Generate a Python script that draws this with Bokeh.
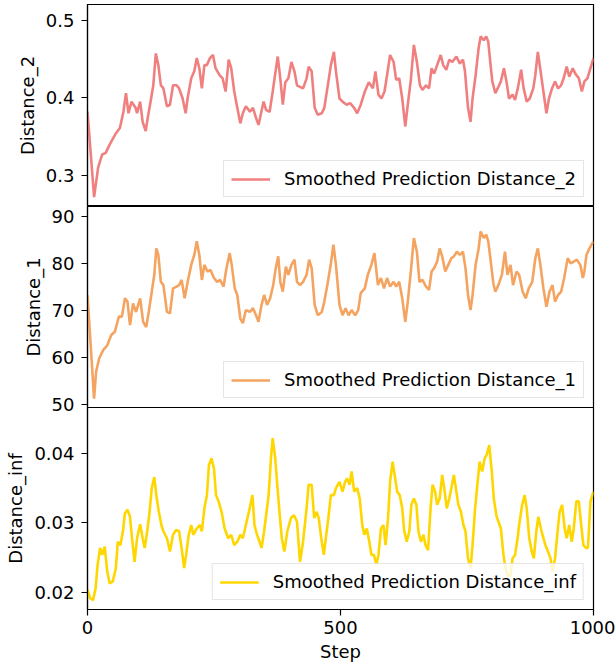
from bokeh.plotting import figure
from bokeh.layouts import column
from bokeh.models import Range1d, FixedTicker
from bokeh.embed import file_html
from bokeh.resources import INLINE

# ---------------- data ----------------
d2_steps = [0,13,21,29,36,44,56,64,71,76,81,87,95,98,104,109,115,119,126,130,
            135,140,145,150,157,163,169,176,181,188,194,198,205,211,216,221,226,231,236,242,
            248,253,261,267,273,279,284,290,296,302,307,313,321,327,333,338,343,348,353,360,
            366,371,376,381,386,391,397,403,409,414,420,426,433,437,443,449,455,463,468,474,
            481,487,491,498,504,512,519,527,533,540,548,556,564,569,575,581,587,592,598,605,
            610,616,622,628,633,639,645,651,657,662,669,675,680,685,691,698,703,709,715,721,
            729,736,742,746,752,757,761,767,773,777,783,788,792,796,800,806,812,817,823,828,
            833,840,845,851,857,862,868,874,881,885,890,895,901,907,912,918,924,930,936,941,
            947,952,959,964,971,977,982,988,994,1000]
d2_values = [0.382,0.272,0.31,0.327,0.329,0.34,0.354,0.361,0.382,0.406,
             0.38,0.395,0.387,0.38,0.395,0.369,0.357,0.374,0.4,0.416,
             0.457,0.442,0.416,0.412,0.389,0.391,0.416,0.416,0.412,0.399,
             0.38,0.4,0.425,0.434,0.451,0.438,0.412,0.442,0.442,0.451,
             0.455,0.438,0.429,0.425,0.408,0.449,0.438,0.408,0.387,0.367,
             0.38,0.389,0.382,0.387,0.374,0.365,0.38,0.395,0.384,0.382,
             0.408,0.431,0.453,0.425,0.391,0.42,0.425,0.446,0.434,0.416,
             0.414,0.412,0.425,0.44,0.434,0.387,0.378,0.38,0.387,0.412,
             0.442,0.459,0.434,0.399,0.395,0.391,0.393,0.387,0.38,0.391,
             0.408,0.42,0.412,0.434,0.404,0.399,0.408,0.429,0.455,0.446,
             0.423,0.425,0.399,0.363,0.391,0.423,0.468,0.446,0.416,0.41,
             0.416,0.412,0.438,0.431,0.442,0.455,0.442,0.436,0.449,0.446,
             0.453,0.444,0.449,0.434,0.387,0.369,0.399,0.429,0.464,0.479,
             0.474,0.479,0.472,0.446,0.421,0.406,0.414,0.421,0.438,0.421,
             0.399,0.404,0.397,0.414,0.436,0.412,0.395,0.399,0.412,0.429,
             0.459,0.436,0.408,0.38,0.399,0.412,0.421,0.412,0.416,0.425,
             0.44,0.427,0.438,0.431,0.425,0.408,0.421,0.425,0.438,0.451]

d1_steps = [0,13,17,23,31,39,47,54,62,68,74,79,84,90,96,104,110,116,121,127,
            132,136,140,145,150,157,163,169,176,181,186,192,198,205,211,216,221,226,231,237,
            243,250,256,262,269,274,281,285,291,296,302,307,313,321,327,333,338,344,349,355,
            361,367,372,377,381,386,392,397,403,409,414,420,426,433,438,443,449,455,463,468,
            474,481,486,491,498,504,510,516,522,529,535,540,548,554,561,567,574,580,586,592,
            598,605,610,616,622,628,633,639,645,651,656,662,669,675,680,685,691,696,701,707,
            713,719,724,730,736,742,747,752,757,761,767,773,777,783,788,792,797,802,806,812,
            819,825,830,836,841,848,853,860,866,872,879,885,890,895,901,907,913,919,924,930,
            936,942,949,955,961,967,974,979,982,986,992,1000]
d1_values = [73.3,51.3,57,59.8,61.6,62.6,64.8,65.5,68.7,68.7,
             72.6,71.9,66.9,71.5,69.7,72.6,67.6,66.5,69.7,74,
             77.6,83.2,81.8,76.1,75.4,69.7,69.4,74.7,75.1,75.4,
             76.5,72.6,76.1,79.7,81.8,84.7,81.8,76.5,79.7,78.3,
             78.6,76.9,76.1,76.5,75.1,78.6,82.2,79.7,74.7,73.3,
             68.3,67.3,70.1,69.7,70.5,69,67.6,71.2,73.3,71.2,
             72.6,75.4,79,81.5,76.1,74,79.3,77.6,79.7,80.8,
             76.1,75.4,76.1,77.6,80.8,79,71.2,69,69.7,71.9,
             75.4,80,84,79.7,71.2,69,70.5,69,70.1,69,
             70.1,73.7,74.7,77.6,79.7,82.2,75.4,76.9,74.7,76.9,
             75.1,76.1,75.1,76.1,72.6,67.6,71.9,78.3,85.4,82.5,
             76.1,76.5,75.1,74.4,78.3,79,80.4,83.2,81.5,78.3,
             79.7,81.1,81.5,82.5,81.8,82.5,79,73.3,70.1,73.3,
             79.7,83.2,86.8,85.4,86.1,84.7,80.4,75.8,74,75.4,
             77.6,82.5,77.6,79.7,75.4,78.3,77.6,74,72.6,74.7,
             76.1,81.1,83.2,79.7,74.7,70.8,74,75.4,71.9,73.3,
             74,76.9,81.1,80,80.4,80.8,79.7,76.9,78.3,81.8,
             83.2,84.7]

dinf_steps = [0,5,11,16,20,25,29,34,39,44,50,56,60,65,70,74,79,84,88,93,
              98,104,109,113,118,122,127,132,136,141,146,150,157,163,169,175,181,186,191,195,
              200,205,209,216,222,226,231,236,240,245,250,254,259,265,271,278,284,290,296,302,
              307,313,319,326,330,335,340,344,349,353,358,363,366,371,375,380,384,389,395,402,
              408,414,420,426,433,437,443,448,453,457,462,467,471,476,481,487,491,498,504,509,
              513,518,522,527,533,538,543,547,552,557,561,566,571,575,580,585,589,594,598,603,
              608,612,617,622,626,631,636,640,645,650,654,659,664,668,673,678,682,687,691,696,
              701,705,710,715,719,724,729,733,738,743,747,752,757,761,766,771,775,780,785,789,
              794,799,803,808,812,817,822,826,831,836,840,845,850,853,859,864,868,873,878,882,
              887,891,896,901,905,910,915,919,924,929,933,938,943,947,952,957,961,966,971,975,
              980,985,989,994,1000]
dinf_values = [0.0204,0.0192,0.0189,0.0206,0.024,0.0264,0.0254,0.0266,0.023,0.0213,
               0.0216,0.0235,0.0273,0.0268,0.0288,0.0314,0.0319,0.0309,0.0278,0.0244,
               0.0278,0.0298,0.0278,0.0264,0.0288,0.0311,0.035,0.0366,0.034,0.0316,
               0.0297,0.0288,0.0278,0.0259,0.0283,0.029,0.0288,0.0264,0.0235,0.0254,
               0.0283,0.0297,0.0283,0.0292,0.0297,0.0288,0.0321,0.034,0.0383,0.0393,
               0.0378,0.034,0.0331,0.0316,0.0292,0.0278,0.0283,0.0268,0.0273,0.0283,
               0.0278,0.0297,0.0316,0.034,0.0297,0.0283,0.0273,0.0264,0.0288,0.0311,
               0.034,0.0398,0.0422,0.0393,0.0355,0.0311,0.0278,0.0259,0.0288,0.0307,
               0.0311,0.0302,0.0244,0.0273,0.0321,0.0355,0.0355,0.0307,0.0316,0.0307,
               0.0278,0.0254,0.0278,0.0307,0.034,0.034,0.035,0.0359,0.0345,0.0359,
               0.0364,0.0355,0.0374,0.0345,0.035,0.0335,0.0297,0.0283,0.0292,0.0273,
               0.0254,0.0254,0.024,0.0254,0.0292,0.0297,0.0268,0.0307,0.0359,0.0388,
               0.0364,0.0345,0.034,0.0321,0.0288,0.0273,0.0288,0.0326,0.0335,0.0326,
               0.0288,0.0273,0.0283,0.0268,0.0261,0.0321,0.0355,0.0345,0.0326,0.0335,
               0.0369,0.035,0.0321,0.0335,0.035,0.0369,0.0345,0.0326,0.0316,0.0297,
               0.0288,0.0249,0.0235,0.0268,0.0321,0.0359,0.0388,0.0374,0.0393,0.0398,
               0.0412,0.0374,0.0335,0.0311,0.0302,0.0292,0.0254,0.0235,0.0223,0.0225,
               0.0249,0.0254,0.0278,0.0297,0.0326,0.034,0.0321,0.0278,0.0259,0.0249,
               0.0288,0.0309,0.0292,0.0278,0.0268,0.0259,0.0249,0.023,0.0249,0.0288,
               0.0316,0.0326,0.0292,0.0278,0.0297,0.0273,0.0292,0.0331,0.0331,0.0302,
               0.0268,0.0264,0.0264,0.0331,0.0345]

x_ticks = [0, 500, 1000]
d2_ticks = [0.3, 0.4, 0.5]
d1_ticks = [50, 60, 70, 80, 90]
dinf_ticks = [0.02, 0.03, 0.04]

FONT = "DejaVu Sans"
FS = "18px"
OVER = 10  # room below a panel for a tick label that reaches past its frame


def make_panel(steps, vals, color, ylabel, legend, yr, yticks, fh, show_x,
               bottom=0, top_overlap=0):
    p = figure(frame_width=506, frame_height=fh, output_backend="svg",
               toolbar_location=None, x_range=Range1d(0, 1000), y_range=Range1d(*yr),
               x_axis_location="below" if show_x else None,
               min_border_left=80, min_border_right=22, min_border_top=0,
               min_border_bottom=bottom)
    if top_overlap:
        p.margin = (-top_overlap, 0, 0, 0)
        p.border_fill_alpha = 0
    else:
        p.border_fill_color = "white"
    p.line(steps, vals, line_color=color, line_width=2.6, legend_label=legend)
    p.grid.visible = False
    p.outline_line_color = "black"
    p.outline_line_width = 1.2
    p.outline_line_alpha = 1
    p.background_fill_color = "white"
    p.yaxis.ticker = FixedTicker(ticks=yticks)
    axes = list(p.yaxis) + (list(p.xaxis) if show_x else [])
    for ax in axes:
        ax.axis_line_color = "black"
        ax.axis_line_width = 1.2
        ax.major_tick_line_color = "black"
        ax.major_tick_line_width = 1.2
        ax.major_tick_out = 6
        ax.major_tick_in = 0
        ax.minor_tick_line_color = None
        ax.major_label_text_font = FONT
        ax.major_label_text_font_size = FS
        ax.major_label_text_color = "black"
        ax.axis_label_text_font = FONT
        ax.axis_label_text_font_size = FS
        ax.axis_label_text_font_style = "normal"
        ax.axis_label_text_color = "black"
    p.yaxis.axis_label = ylabel
    p.yaxis.major_label_standoff = 7
    p.yaxis.axis_label_standoff = 5
    if show_x:
        p.xaxis.ticker = FixedTicker(ticks=x_ticks)
        p.xaxis.axis_label = "Step"
        p.xaxis.major_label_standoff = 5
        p.xaxis.axis_label_standoff = 4
    lg = p.legend[0]
    lg.location = "bottom_right"
    lg.margin = 9
    lg.padding = 7
    lg.spacing = 0
    lg.glyph_width = 39
    lg.label_standoff = 14
    lg.label_text_font = FONT
    lg.label_text_font_size = FS
    lg.label_text_color = "black"
    lg.border_line_color = "#cccccc"
    lg.border_line_width = 1
    lg.background_fill_alpha = 0.8
    return p


p1 = make_panel(d2_steps, d2_values, "#F08080", "Distance_2",
                "Smoothed Prediction Distance_2", (0.26, 0.52), d2_ticks, 202, False)
p2 = make_panel(d1_steps, d1_values, "#F4A460", "Distance_1",
                "Smoothed Prediction Distance_1", (49.4, 92.1), d1_ticks, 201, False,
                bottom=OVER)
p3 = make_panel(dinf_steps, dinf_values, "#FFD700", "Distance_inf",
                "Smoothed Prediction Distance_inf", (0.01755, 0.0466), dinf_ticks, 202, True,
                top_overlap=OVER)

layout = column(p1, p2, p3, spacing=0, margin=(4, 0, 0, 2))
open("out.html", "w").write(file_html(layout, INLINE))
